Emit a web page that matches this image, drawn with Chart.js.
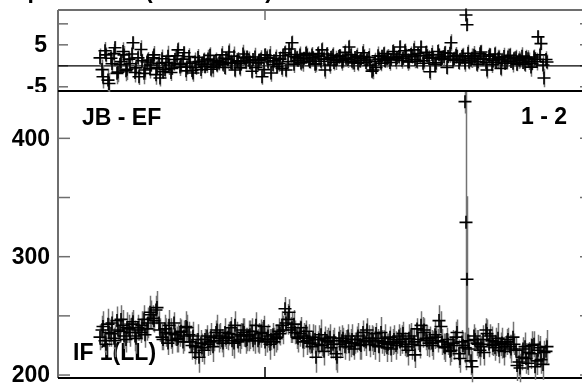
<!DOCTYPE html>
<html>
<head>
<meta charset="utf-8">
<script src="https://cdn.jsdelivr.net/npm/chart.js@4/dist/chart.umd.min.js"></script>
<style>
  html, body { margin: 0; padding: 0; background: #fff; overflow: hidden; }
  #wrap { position: relative; width: 582px; height: 383px; overflow: hidden; }
  #top { position: absolute; left: 0; top: 0; }
  #bot { position: absolute; left: 0; top: 91px; }
</style>
</head>
<body>
<div id="wrap">
  <canvas id="bot" width="582" height="292"></canvas>
  <canvas id="top" width="582" height="92"></canvas>
</div>
<script>
// sample times, minutes after 00:00 (scan A and scan B)
const timesA = [
  555,558,561,564,567,570,573,576,579,582,
  585,588,591,594,597,600,603,606,609,612,
  615,618,621,624,627,630,633,636,639,642,
  645,648,651,654,657,660,663,666,669,672,
  675,678,681,684,687,690,693,696,699,702,
  705,708,711,714,717,720,723,726,729,732,
  735,738,741,744,747,750,753,756,759,762,
  765,768,771,774,777,780,783,786,789,792,
  795,798,801,804,807,810,813,816,819,822,
  825,828,831,834,837,840,843,846,849,852,
  855,858,861,864,867,870,873,876,879,882,
  885,888,891,894,897,900,903,906,909,912,
  915,918,920,921,922,924,927,930,933,936,939,942,
  945,948,951,954,957,960,963,966,969,972,
  975,978,981,984,987,990,993,996,999,1002
];
const timesB = [
  557,560,563,566,569,572,575,578,581,584,
  587,590,593,596,599,602,605,608,611,614,
  617,620,623,626,629,632,635,638,641,644,
  647,650,653,656,659,662,665,668,671,674,
  677,680,683,686,689,692,695,698,701,704,
  707,710,713,716,719,722,725,728,731,734,
  737,740,743,746,749,752,755,758,761,764,
  767,770,773,776,779,782,785,788,791,794,
  797,800,803,806,809,812,815,818,821,824,
  827,830,833,836,839,842,845,848,851,854,
  857,860,863,866,869,872,875,878,881,884,
  887,890,893,896,899,902,905,908,911,914,
  917,920,923,926,929,932,935,938,941,944,
  947,950,953,956,959,962,965,968,971,974,
  977,980,983,986,989,992,995,998,1001
];

// phase (degrees)
const phaseA = [
  1.9,-2.6,2.6,-4.2,0.5,4.3,-1.5,1.0,2.6,-0.8,
  0.5,5.5,-0.5,-2.6,1.2,-1.0,1.4,0.2,2.6,-0.5,
  -2.9,-1.4,0.8,0.2,-0.6,1.5,3.8,0.4,3.1,-0.3,
  0.6,-1.7,-0.4,1.0,0.3,-0.2,1.6,-0.8,0.9,0.2,
  1.1,0.4,1.8,3.3,0.6,-1.0,1.2,0.5,1.9,2.1,
  0.8,1.5,-0.4,1.3,-2.6,2.6,0.9,-1.7,1.2,-0.2,
  1.6,2.4,-1.0,4.0,5.5,2.2,1.3,0.7,1.8,2.5,
  1.0,1.9,0.5,2.3,3.8,-1.0,1.6,2.0,0.8,1.5,
  2.4,1.3,1.8,4.5,1.1,2.0,0.6,1.7,2.2,1.4,
  0.2,-1.0,-0.4,1.6,2.3,1.2,2.0,1.5,2.8,1.9,
  4.5,1.8,2.6,1.0,2.2,1.5,2.9,4.5,1.2,2.4,
  -1.4,2.0,0.7,2.6,1.8,3.1,2.2,5.5,1.6,2.3,
  1.5,2.4,1.2,12.1,9.8,0.9,1.8,2.2,1.0,3.3,1.6,-1.0,
  2.6,1.2,0.8,1.9,1.4,0.6,2.1,1.0,1.7,0.4,
  1.3,0.8,2.0,1.1,0.5,1.6,6.9,5.3,-2.9,0.9
];
const phaseB = [
  -0.9,3.6,-3.4,1.8,2.9,-1.8,0.3,3.4,-1.2,1.6,
  2.8,-1.6,1.9,3.9,-1.8,0.9,-0.7,1.9,-2.1,0.6,
  1.7,-0.9,2.3,-1.6,0.6,2.4,-0.3,1.6,-1.2,2.2,
  -1.1,0.9,2.0,-0.9,1.4,0.4,2.5,-0.3,1.2,0.7,
  2.6,-0.4,1.5,0.8,2.3,1.0,-0.5,2.8,0.9,1.3,
  -1.3,2.1,0.7,1.6,-0.9,1.9,2.4,0.3,1.8,0.5,
  -0.6,3.1,1.0,2.7,0.4,1.9,2.6,0.9,3.0,1.4,
  2.6,0.4,2.9,1.1,1.6,2.8,0.2,2.5,1.3,2.2,
  0.9,3.2,1.5,2.6,0.7,2.3,1.2,3.1,0.8,2.0,
  -1.3,1.1,2.4,0.6,2.9,1.7,0.8,3.4,1.4,2.2,
  1.3,3.6,0.9,2.7,3.8,1.1,2.4,0.6,3.2,1.8,
  2.7,0.3,3.4,1.5,2.2,-0.4,3.0,1.3,2.5,0.8,
  2.2,0.7,3.0,1.4,2.5,0.4,2.9,1.6,0.8,2.3,
  0.3,2.8,1.6,-0.6,2.2,1.1,2.5,0.6,1.9,1.4,
  2.3,0.4,1.7,-0.3,2.1,1.0,2.6,0.2,1.5
];
const phaseErrA = [
  2.2,2.8,1.8,2.5,2.0,1.6,2.4,1.9,2.1,2.6,
  1.8,1.5,2.2,2.0,1.7,2.3,1.9,1.6,2.1,1.8,
  2.0,1.7,1.9,2.4,1.6,2.1,1.8,2.2,1.5,1.9,
  1.7,2.1,1.8,1.5,2.0,1.6,2.2,1.9,1.7,1.8,
  1.6,1.9,1.5,2.0,1.7,1.8,2.1,1.6,1.9,1.5,
  1.8,1.5,2.0,1.7,1.9,1.6,1.8,2.1,1.5,1.7,
  1.9,1.6,1.8,1.5,1.7,2.0,1.6,1.9,1.5,1.8,
  1.7,1.5,1.9,1.6,1.8,2.1,1.5,1.7,1.9,1.6,
  1.5,1.8,1.6,1.7,2.0,1.5,1.9,1.6,1.8,1.7,
  1.8,2.2,1.6,1.9,1.5,1.7,2.0,1.6,1.8,1.5,
  1.6,1.9,1.5,1.8,1.7,2.1,1.6,1.5,1.9,1.7,
  2.0,1.6,1.8,1.5,1.9,1.7,1.6,2.0,1.8,1.5,
  1.7,1.9,1.6,1.5,1.5,1.8,2.3,1.6,1.9,1.7,1.5,2.0,
  1.6,1.8,1.5,1.9,1.7,1.6,2.0,1.5,1.8,1.7,
  1.9,1.6,1.8,2.1,1.5,1.7,1.5,1.6,2.2,1.8
];
const phaseErrB = [
  2.4,2.1,2.7,1.9,2.3,2.6,2.0,2.2,2.5,1.9,
  2.1,2.4,1.8,2.2,2.6,1.9,2.3,2.0,2.4,1.8,
  2.2,1.9,2.5,2.0,1.8,2.3,2.1,1.9,2.4,2.0,
  1.9,2.3,2.0,2.2,1.8,2.1,1.9,2.4,2.0,1.8,
  2.1,1.8,2.2,1.9,2.3,1.7,2.0,2.2,1.8,2.1,
  1.8,2.2,1.9,2.1,1.7,2.0,2.3,1.8,2.1,1.9,
  2.0,1.8,2.2,1.9,2.1,1.7,2.0,2.3,1.8,2.0,
  1.9,2.1,1.8,2.2,2.0,1.7,2.1,1.9,2.3,1.8,
  2.1,1.9,2.0,1.8,2.2,2.0,1.7,2.1,1.9,2.2,
  1.8,2.0,2.2,1.9,1.7,2.1,2.0,1.8,2.2,1.9,
  2.0,1.7,2.1,1.9,2.2,1.8,2.0,2.1,1.7,1.9,
  2.2,1.9,1.8,2.0,2.1,1.7,2.3,1.9,2.0,1.8,
  1.9,2.1,2.0,1.8,2.2,1.9,2.0,1.7,2.1,2.0,
  2.0,1.8,2.2,1.9,2.1,2.0,1.8,2.2,1.9,2.1,
  2.1,1.9,2.0,2.3,1.8,2.1,1.9,2.2,2.0
];

// amplitude
const ampA = [
  232,241,226,236,244,229,238,247,233,240,
  236,245,231,238,242,234,244,251,246,257,
  238,230,236,242,229,234,231,237,233,240,
  228,233,224,215,223,230,226,232,229,238,
  233,227,231,235,229,242,228,233,236,230,
  234,229,242,231,236,228,233,230,228,232,
  235,238,244,253,240,236,231,240,233,229,
  227,232,215,230,225,231,228,223,229,215,
  226,231,228,224,230,227,233,225,229,238,
  226,229,235,224,228,231,226,222,230,227,
  228,235,224,231,226,217,230,242,238,229,
  231,225,232,246,228,223,226,221,225,236,
  214,225,431,329,281,222,207,230,226,224,219,235,
  233,225,228,221,227,224,230,222,226,208,
  206,222,214,219,225,207,221,213,219,224
];
const ampB = [
  238,229,243,235,231,246,237,242,230,239,
  243,233,240,236,247,239,253,248,255,244,
  232,239,227,235,244,230,236,228,241,234,
  225,219,230,227,221,233,228,224,236,231,
  229,236,232,240,227,234,230,238,229,233,
  237,231,229,235,241,230,226,234,231,237,
  242,256,247,238,243,232,235,228,237,231,
  224,230,226,234,220,229,232,226,218,231,
  229,224,233,227,222,230,226,236,228,231,
  231,225,229,236,227,223,232,228,225,233,
  230,226,221,233,228,239,225,236,231,227,
  227,234,229,241,224,230,220,227,232,218,
  228,223,229,212,233,227,221,230,238,226,
  229,223,231,226,220,228,224,232,221,211,
  215,224,210,218,226,212,223,209,220
];
const ampErrA = [
  11,13,9,12,10,14,9,12,11,13,
  12,10,13,9,12,11,13,12,10,14,
  10,9,12,13,11,9,12,10,13,11,
  9,12,11,13,12,9,10,12,9,13,
  11,12,9,10,13,12,9,11,12,10,
  12,9,11,13,9,12,10,9,12,11,
  10,12,9,11,13,10,12,9,11,12,
  9,11,13,12,9,10,12,9,11,13,
  12,9,10,12,13,9,11,12,9,10,
  11,12,9,13,10,12,9,11,12,9,
  12,10,9,12,13,11,9,12,10,13,
  10,12,9,13,11,12,9,10,12,11,
  12,11,10,125,70,12,13,10,12,9,11,12,
  10,9,12,11,13,9,10,12,9,13,
  12,10,13,9,12,11,13,12,10,14
];
const ampErrB = [
  12,10,13,11,9,12,10,13,11,12,
  10,13,11,9,12,10,14,11,12,10,
  11,12,10,13,9,11,12,10,13,11,
  12,10,13,11,12,9,11,13,10,12,
  10,12,11,9,13,11,12,10,11,13,
  11,13,10,12,9,11,13,10,12,11,
  12,10,13,11,12,10,11,13,9,12,
  10,12,11,13,12,9,11,12,14,10,
  13,11,10,12,9,11,13,10,12,11,
  11,12,10,13,11,12,9,11,12,10,
  12,10,13,11,12,9,11,13,10,12,
  11,12,10,13,11,10,12,11,13,12,
  10,13,11,12,10,11,13,12,10,11,
  12,11,13,10,12,11,10,13,11,12,
  11,12,10,13,11,12,10,13,11
];

const timeTicks = [720];
const phaseTicks = [10, 5, 0, -5];
const phaseLabels = ['5', '-5'];
const ampTicks = [400, 350, 300, 250, 200];
const ampLabels = ['400', '300', '200'];

const FONT = 'bold 23px "Liberation Sans", Arial, sans-serif';

const errorBars = {
  id: 'errorBars',
  beforeDatasetsDraw(chart) {
    const { ctx, scales: { x, y } } = chart;
    ctx.save();
    ctx.strokeStyle = '#737373';
    ctx.lineWidth = 1.5;
    ctx.beginPath();
    chart.data.datasets.forEach(ds => {
      ds.data.forEach((p, i) => {
        const px = Math.round(x.getPixelForValue(p.x)) + 0.5;
        ctx.moveTo(px, y.getPixelForValue(p.y - ds.err[i]));
        ctx.lineTo(px, y.getPixelForValue(p.y + ds.err[i]));
      });
    });
    ctx.stroke();
    ctx.restore();
  }
};

function line(ctx, x1, y1, x2, y2) {
  ctx.beginPath();
  ctx.moveTo(x1, y1);
  ctx.lineTo(x2, y2);
  ctx.stroke();
}

const topFrame = {
  id: 'topFrame',
  beforeDatasetsDraw(chart) {
    const { ctx, chartArea: a, scales: { x, y } } = chart;
    ctx.save();
    ctx.strokeStyle = '#6e6e6e';
    ctx.lineWidth = 2;
    line(ctx, a.left, a.top, a.right, a.top);
    line(ctx, a.left, a.top, a.left, a.bottom);
    ctx.lineWidth = 1.5;
    phaseTicks.forEach(v => {
      const py = y.getPixelForValue(v);
      line(ctx, a.left, py, a.left + 10, py);
      line(ctx, a.right - 2, py, a.right, py);
    });
    timeTicks.forEach(t => {
      const px = x.getPixelForValue(t);
      line(ctx, px, a.top, px, a.top + 10);
    });
    ctx.strokeStyle = '#000';
    ctx.lineWidth = 1.3;
    line(ctx, a.left, y.getPixelForValue(0), a.right, y.getPixelForValue(0));
    ctx.lineWidth = 2;
    line(ctx, a.left, a.bottom, a.right, a.bottom);

    ctx.fillStyle = '#000';
    ctx.font = FONT;
    ctx.textAlign = 'right';
    ctx.textBaseline = 'middle';
    phaseLabels.forEach(s => ctx.fillText(s, 47, y.getPixelForValue(Number(s)) + 1));
    // title, mostly above the page
    ctx.textBaseline = 'alphabetic';
    ctx.fillText('Amp & Phase ', 145, -2);
    ctx.textAlign = 'left';
    ctx.fillText('(Calibrated)', 145, -2);
    ctx.restore();
  }
};

const botFrame = {
  id: 'botFrame',
  beforeDatasetsDraw(chart) {
    const { ctx, chartArea: a, scales: { x, y } } = chart;
    ctx.save();
    ctx.strokeStyle = '#6e6e6e';
    ctx.lineWidth = 2;
    line(ctx, a.left, a.top, a.left, a.bottom);
    ctx.lineWidth = 1.5;
    ampTicks.forEach(v => {
      const py = y.getPixelForValue(v);
      line(ctx, a.left, py, a.left + 12, py);
      line(ctx, a.right - 2, py, a.right, py);
    });
    ctx.strokeStyle = '#000';
    timeTicks.forEach(t => {
      const px = x.getPixelForValue(t);
      line(ctx, px, a.bottom, px, a.bottom - 11);
    });
    ctx.lineWidth = 2;
    line(ctx, a.left, a.bottom, a.right, a.bottom);

    ctx.fillStyle = '#000';
    ctx.font = FONT;
    ctx.textAlign = 'right';
    ctx.textBaseline = 'middle';
    ampLabels.forEach(s => ctx.fillText(s, 50, y.getPixelForValue(Number(s)) + 1));
    ctx.textBaseline = 'alphabetic';
    ctx.textAlign = 'left';
    ctx.fillText('JB - EF', 82, 34);
    ctx.fillText('IF 1(LL)', 73, 269);
    ctx.textAlign = 'right';
    ctx.fillText('1 - 2', 567, 33);
    ctx.restore();
  }
};

function scan(times, vals, errs) {
  return {
    data: times.map((t, i) => ({ x: t, y: vals[i] })),
    err: errs,
    showLine: false,
    pointStyle: 'cross',
    pointRadius: 6.5,
    pointBorderWidth: 1.6,
    borderColor: '#000',
    backgroundColor: '#000',
    clip: false
  };
}

function panel(canvas, datasets, yMin, yMax, pad, frame) {
  return new Chart(canvas, {
    type: 'scatter',
    data: { datasets: datasets },
    options: {
      animation: false,
      responsive: false,
      events: [],
      layout: { padding: pad, autoPadding: false },
      plugins: { legend: { display: false }, tooltip: { enabled: false } },
      scales: {
        x: { type: 'linear', min: 513, max: 1037, display: false },
        y: { type: 'linear', min: yMin, max: yMax, display: false }
      }
    },
    plugins: [frame, errorBars]
  });
}

panel(document.getElementById('top'),
  [scan(timesA, phaseA, phaseErrA), scan(timesB, phaseB, phaseErrB)],
  -6, 13.3, { left: 58, right: 0, top: 10, bottom: 1 }, topFrame);
panel(document.getElementById('bot'),
  [scan(timesA, ampA, ampErrA), scan(timesB, ampB, ampErrB)],
  197.5, 440, { left: 58, right: 0, top: 0, bottom: 5 }, botFrame);
</script>
</body>
</html>
